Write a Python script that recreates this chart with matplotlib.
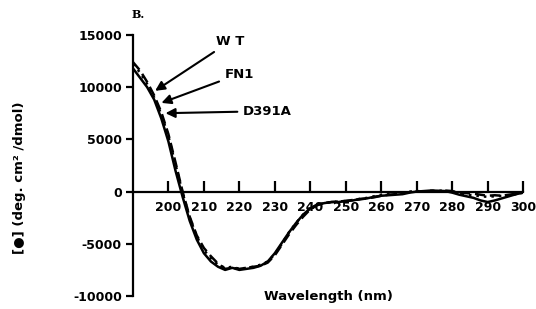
import matplotlib
matplotlib.use("Agg")
from matplotlib import pyplot as plt

plt.rcParams['font.family'] = ['DejaVu Sans']
plt.rcParams['font.weight'] = 'bold'
plt.rcParams['axes.unicode_minus'] = False

wavelength = list(range(190, 301, 2))

wt = [11800, 10900, 10000, 8800, 7000, 4800, 2000, -500, -2800, -4600,
      -5900, -6700, -7200, -7500, -7300, -7500, -7400, -7300, -7100, -6700,
      -5900, -4900, -3900, -3000, -2200, -1600, -1250, -1100, -1000, -1000,
      -900, -850, -700, -650, -500, -400, -350, -300, -250, -100,
      0, 50, 100, 80, 50, -100, -300, -450, -600, -850,
      -1000, -850, -650, -450, -250, -100]

fn1 = [12400, 11600, 10500, 9200, 7600, 5500, 2800, 0, -2400, -4200,
       -5400, -6200, -6900, -7400, -7300, -7400, -7300, -7200, -7100, -6800,
       -6100, -5100, -4100, -3200, -2400, -1700, -1300, -1100, -1000, -950,
       -900, -800, -750, -650, -550, -400, -300, -250, -150, -50,
       0, 0, 80, 0, 100, 50, -100, -150, -200, -300,
       -400, -350, -400, -300, -200, -100]

d391a = [12200, 11400, 10300, 9000, 7400, 5300, 2600, -100, -2500, -4300,
         -5600, -6400, -7000, -7300, -7200, -7400, -7300, -7200, -7000, -6700,
         -6000, -5000, -3900, -3000, -2200, -1600, -1250, -1100, -1000, -950,
         -900, -800, -700, -600, -450, -300, -200, -150, -100, 0,
         50, 0, 50, 100, 50, 0, -200, -300, -350, -450,
         -500, -450, -400, -350, -250, -100]

x_ticks = list(range(200, 301, 10))
y_ticks = [-10000, -5000, 0, 5000, 10000, 15000]


def main():
    fig = plt.figure(figsize=(5.36, 3.09), dpi=100)
    ax = fig.add_axes([0.248, 0.042, 0.728, 0.845])

    ax.plot(wavelength, wt, color='black', lw=1.8, linestyle='-')
    ax.plot(wavelength, fn1, color='black', lw=1.8, linestyle=(0, (4, 2)))
    ax.plot(wavelength, d391a, color='black', lw=1.8, linestyle=(0, (1, 2)))

    ax.set_xlim(190, 300)
    ax.set_ylim(-10000, 15000)

    ax.spines['top'].set_visible(False)
    ax.spines['right'].set_visible(False)
    ax.spines['bottom'].set_position(('data', 0))
    ax.spines['bottom'].set_linewidth(1.6)
    ax.spines['left'].set_linewidth(1.6)

    ax.set_xticks(x_ticks)
    ax.set_yticks(y_ticks)
    ax.tick_params(axis='x', direction='in', length=8, width=1.6, pad=7,
                   labelsize=9)
    ax.tick_params(axis='y', direction='out', length=5, width=1.6, pad=3,
                   labelsize=9)

    ax.text(245, -10000, 'Wavelength (nm)', ha='center', va='center',
            fontsize=9.5, fontweight='bold')

    arrow = dict(arrowstyle='-|>', color='black', lw=1.5, mutation_scale=14)
    ax.annotate('W T', xy=(195.6, 9500), xytext=(213.5, 14400),
                va='center', fontsize=9.5, arrowprops=arrow)
    ax.annotate('FN1', xy=(197.3, 8400), xytext=(215.8, 11250),
                va='center', fontsize=9.5, arrowprops=arrow)
    ax.annotate('D391A', xy=(198.4, 7500), xytext=(221, 7700),
                va='center', fontsize=9.5, arrowprops=arrow)

    fig.text(20 / 536, 1 - 178 / 309, '[●] (deg. cm² /dmol)', rotation=90,
             ha='center', va='center', fontsize=9.5, fontweight='bold')
    fig.text(138 / 536, 1 - 15 / 309, 'B.', ha='center', va='center',
             fontsize=8, fontweight='bold', family='DejaVu Serif')

    fig.savefig('out.png', dpi=100)


if __name__ == "__main__":
    main()
